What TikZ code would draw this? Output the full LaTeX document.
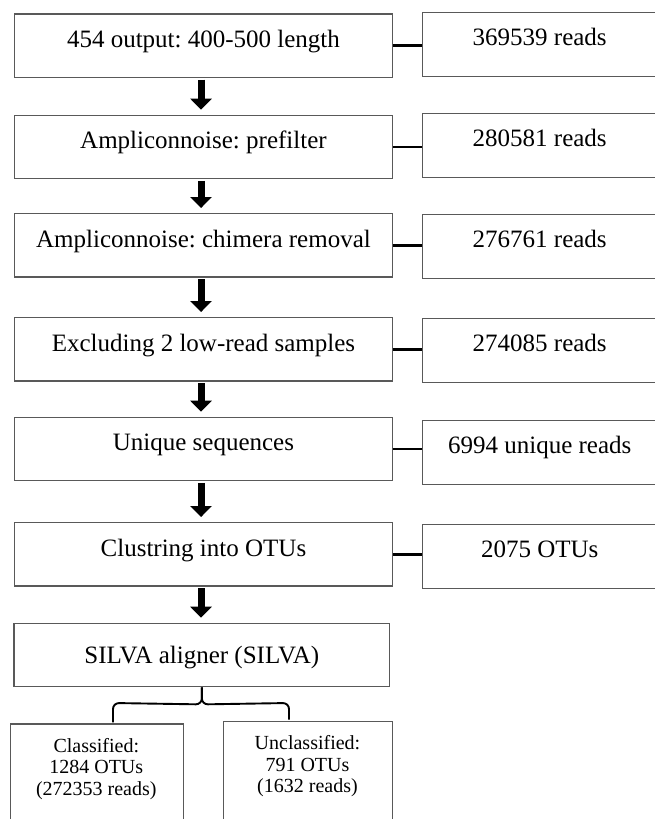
\documentclass[tikz,border=0pt]{standalone}
\usepackage{fontspec}
\setmainfont{Liberation Serif}
\usetikzlibrary{arrows.meta}
\frenchspacing
\begin{document}
\begin{tikzpicture}[x=1pt,y=-1pt,
  box/.style={draw=black!65, line width=1.4pt, inner sep=0pt, anchor=north west,
    font=\fontsize{25}{30}\selectfont},
  lbox/.style={box, minimum width=377.5pt, minimum height=63.3pt, text height=33.5pt, text depth=29.8pt},
  rbox/.style={box, minimum width=234pt, minimum height=63.5pt, text height=33pt, text depth=30.5pt},
  sbox/.style={box, minimum height=110pt},
  stext/.style={inner sep=0pt, anchor=north, align=center, font=\fontsize{20}{21.7}\selectfont},
  link/.style={line width=2.6pt, black},
  down/.style={line width=7pt, black, -{Triangle[width=21pt,length=11pt]}, shorten >=5pt, shorten <=1.5pt},
  brace/.style={line width=1.9pt, black, rounded corners=6pt}
]
\useasboundingbox (0,0) rectangle (654,819);

% left column
\node[lbox] (b1) at (14,13.3)  {454 output: 400-500 length};
\node[lbox] (b2) at (14,114.7) {Ampliconnoise: prefilter};
\node[lbox] (b3) at (14,213)   {Ampliconnoise: chimera removal};
\node[lbox] (b4) at (14,317)   {Excluding 2 low-read samples};
\node[lbox] (b5) at (14,416.7) {Unique sequences};
\node[lbox] (b6) at (14,522)   {Clustring into OTUs};
\node[box, minimum width=375.7pt, minimum height=63.3pt, text height=40pt, text depth=23.3pt]
  (b7) at (13.3,622.7) {SILVA aligner (SILVA)};

% right column
\node[rbox] (r1) at (422,12)  {369539 reads};
\node[rbox] (r2) at (422,113) {280581 reads};
\node[rbox] (r3) at (422,214) {276761 reads};
\node[rbox] (r4) at (422,318) {274085 reads};
\node[rbox] (r5) at (422,420) {6994 unique reads};
\node[rbox] (r6) at (422,524) {2075 OTUs};

% connectors
\foreach \i in {1,...,6}{
  \draw[link] (b\i.east) -- (b\i.east -| r\i.west);
}

% arrows
\foreach \i/\j in {1/2,2/3,3/4,4/5,5/6,6/7}{
  \draw[down] ([xshift=-2.4pt]b\i.south) -- ([xshift=-2.4pt]b\i.south |- b\j.north);
}

% bottom boxes
\node[sbox, minimum width=172.7pt] (cls) at (10,723.3) {};
\node[sbox, minimum width=169pt] (unc) at (222.7,720.7) {};
\node[stext] (clst) at (96.3,738) {Classified:\\1284 OTUs\\(272353 reads)};
\node[stext] (unct) at (307.5,735.3) {Unclassified:\\791 OTUs\\(1632 reads)};

% brace
\coordinate (bl) at (113,722.3);
\coordinate (br) at (289,719.7);
\draw[brace] (b7.south) -- ++(0,17) -- (bl |- 0,703) -- (bl);
\draw[brace] (b7.south) -- ++(0,17) -- (br |- 0,703) -- (br);
\end{tikzpicture}
\end{document}
